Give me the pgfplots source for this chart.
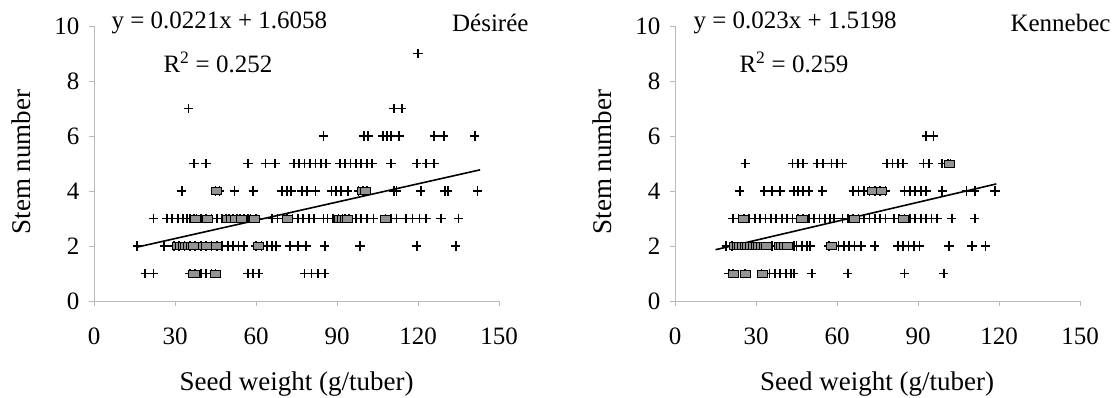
\documentclass[border=0pt]{standalone}
\usepackage{fontspec}
\setmainfont{Liberation Serif}
\usepackage{pgfplots}
\pgfplotsset{compat=1.18}
\newcommand{\bigf}{\fontsize{25}{29}\selectfont}
\newcommand{\labf}{\fontsize{27}{31}\selectfont}
\pgfplotsset{
 stemax/.style={
  scale only axis, width=405pt, height=275pt,
  xmin=0,xmax=150,ymin=0,ymax=10,
  xtick={0,30,...,150}, ytick={0,2,...,10},
  axis lines=left, axis line style={-, gray!55, line width=0.8pt},
  tick style={gray!55, line width=0.8pt}, tick align=outside, major tick length=5pt,
  tick label style={font=\bigf}, /pgf/number format/assume math mode=true,
  xticklabel style={yshift=-18pt}, yticklabel style={xshift=-6pt},
  clip=false,
 },
 pts/.style={only marks, mark=+, mark size=4.6pt, black, mark options={line width=1.7pt}},
 boxes/.style={only marks, mark=square*, mark size=3.6pt, mark options={xscale=1.4, fill=gray!85, draw=black, line width=0.8pt}},
 trend/.style={black, line width=1.6pt, no marks},
}
\begin{document}
\begin{tikzpicture}
\path[use as bounding box] (0pt,0pt) rectangle (1116pt,397pt);
% ---------------- Desiree ----------------
\begin{axis}[stemax, at={(94pt,96pt)}, anchor=south west]
\addplot[pts] coordinates {
(120,9)
(35,7) (111,7) (114,7)
(85,6) (100,6) (101.5,6) (107,6) (108.5,6) (110,6) (113,6) (126,6) (129.5,6) (141,6)
(37,5) (41.5,5) (57,5) (63.5,5) (67,5) (74,5) (76,5) (78,5) (80,5) (82,5) (84,5) (86,5) (91,5) (93,5) (95,5) (97,5) (99,5) (101,5) (103,5) (110,5) (119.5,5) (123,5) (126,5)
(32.5,4) (45,4) (46.5,4) (52,4) (59,4) (69.5,4) (71.5,4) (73,4) (77,4) (79,4) (82,4) (88,4) (89.5,4) (91.5,4) (94,4) (98,4) (99.5,4) (101,4) (111,4) (112,4) (121,4) (130,4) (131,4) (142,4)
(22,3) (27,3) (29,3) (31,3) (33,3) (34.5,3) (35.5,3) (37,3) (38,3) (39.5,3) (41.5,3) (43.5,3) (45.5,3) (47.5,3) (49,3) (50,3) (51.5,3) (53,3) (54,3) (55.5,3) (57,3) (58,3) (60,3) (66,3) (68,3) (70,3) (71.5,3) (73.5,3) (75.5,3) (77.5,3) (79.5,3) (81.5,3) (85,3) (86.5,3) (88.5,3) (90.5,3) (92,3) (93,3) (94.5,3) (97,3) (99,3) (101,3) (103.5,3) (108,3) (110,3) (112,3) (115.5,3) (118,3) (120.5,3) (123,3) (128.5,3) (135,3)
(16,2) (26,2) (29.5,2) (31.5,2) (33.5,2) (35.5,2) (37.5,2) (39.5,2) (41.5,2) (43.5,2) (45.5,2) (47.5,2) (49.5,2) (51.5,2) (53.5,2) (55.5,2) (60,2) (62,2) (64,2) (66,2) (67.5,2) (72.5,2) (75.5,2) (78.5,2) (85.5,2) (98.5,2) (119.5,2) (134,2)
(19,1) (22,1) (35.5,1) (37.5,1) (39.5,1) (41.5,1) (43.5,1) (45,1) (57,1) (59,1) (61,1) (78,1) (80.5,1) (83,1) (85.5,1)
};
\addplot[boxes] coordinates {
(31,2) (32,2) (33,2) (34,2) (35,2) (36,2) (37,2) (40.5,2) (41.5,2) (45.5,2) (61,2)
(37.5,3) (42,3) (49.5,3) (51,3) (52.5,3) (54.5,3) (59.5,3) (71.5,3) (91,3) (92,3) (93,3) (94,3) (108,3)
(45.5,4) (99.5,4) (100.5,4)
(37,1) (45,1)
};
\addplot[trend] coordinates {(16,1.96) (143,4.77)};
\end{axis}
\node[anchor=west, font=\bigf] at (108pt,374pt) {y = 0.0221x + 1.6058};
\node[anchor=west, font=\bigf] at (160pt,335pt) {R\textsuperscript{2} = 0.252};
\node[anchor=east, font=\bigf] at (532pt,374pt) {Désirée};
\node[rotate=90, font=\labf] at (21pt,235pt) {Stem number};
\node[font=\labf] at (296.5pt,13pt) {Seed weight (g/tuber)};
% ---------------- Kennebec ----------------
\begin{axis}[stemax, at={(675pt,96pt)}, anchor=south west]
\addplot[pts] coordinates {
(93,6) (95.7,6)
(26,5) (43.5,5) (45.5,5) (47.5,5) (52.7,5) (54.7,5) (58,5) (60,5) (62,5) (78.5,5) (80.5,5) (82.5,5) (84.5,5) (92,5) (94,5) (99,5) (101,5) (102,5)
(24,4) (33,4) (36,4) (39,4) (44,4) (45.5,4) (47.5,4) (49.5,4) (54.5,4) (66,4) (68,4) (70,4) (72,4) (74,4) (76,4) (78,4) (85,4) (87,4) (89,4) (91,4) (93,4) (99,4) (108,4) (111,4) (118.5,4)
(21.5,3) (23.5,3) (25.5,3) (27.5,3) (29.5,3) (31.5,3) (33.5,3) (35.5,3) (37.5,3) (39.5,3) (41.5,3) (43.5,3) (45.5,3) (47.5,3) (49.5,3) (51.5,3) (53.5,3) (55.5,3) (57.5,3) (59,3) (62,3) (64,3) (66,3) (68,3) (70,3) (72,3) (74,3) (76,3) (78,3) (81,3) (83,3) (85,3) (87,3) (89,3) (91,3) (93,3) (95,3) (97,3) (102.5,3) (111,3)
(19,2) (21,2) (36,2) (44,2) (45,2) (47,2) (49,2) (50,2) (57,2) (60.5,2) (62.5,2) (64.5,2) (66.5,2) (69,2) (74,2) (82.5,2) (84.5,2) (86.5,2) (88.5,2) (90.5,2) (101.5,2) (110,2) (115,2)
(20,1) (21.5,1) (26,1) (32,1) (35,1) (37,1) (39,1) (41,1) (43,1) (44,1) (50.7,1) (64,1) (85,1) (99.5,1)
};
\addplot[boxes] coordinates {
(22,2) (23,2) (24,2) (25,2) (26,2) (27,2) (28,2) (29,2) (30,2) (31,2) (32,2) (33,2) (34,2)
(38.5,2) (39.5,2) (40.5,2) (41.5,2) (58,2)
(25.5,3) (47,3) (66.5,3) (84.5,3)
(73,4) (76.5,4)
(101.5,5)
(21.5,1) (26,1) (32.5,1)
};
\addplot[trend] coordinates {(15,1.865) (119,4.257)};
\end{axis}
\node[anchor=west, font=\bigf] at (690pt,374pt) {y = 0.023x + 1.5198};
\node[anchor=west, font=\bigf] at (736pt,335pt) {R\textsuperscript{2} = 0.259};
\node[anchor=east, font=\bigf] at (1114pt,374pt) {Kennebec};
\node[rotate=90, font=\labf] at (602pt,235pt) {Stem number};
\node[font=\labf] at (877pt,13pt) {Seed weight (g/tuber)};
\end{tikzpicture}
\end{document}
